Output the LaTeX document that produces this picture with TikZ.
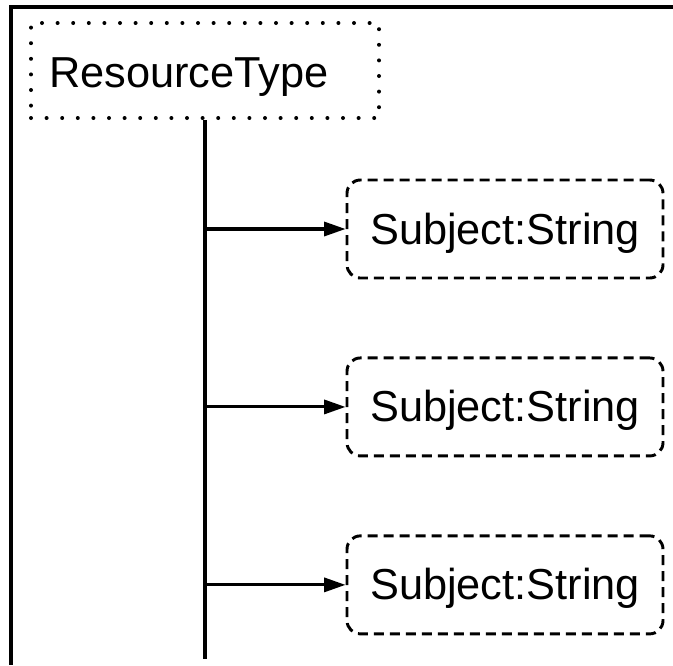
\documentclass[tikz,border=0pt]{standalone}
\usepackage{fontspec}
\setmainfont{Liberation Sans}
\usetikzlibrary{positioning,arrows.meta}

\begin{document}
\begin{tikzpicture}[x=0.75pt, y=-0.75pt, node distance=57.75pt,
                    tyyppi/.style={draw, line width=3pt, line cap=round, dash pattern=on 0pt off 11.7pt,
                      minimum width=261pt, minimum height=71.25pt, inner xsep=13.5pt,
                      text width=234pt, align=left, text height=24.75pt, text depth=0pt,
                      font=\fontsize{32.5}{38}\selectfont},
                    kentta/.style={draw, line width=2.2pt, dash pattern=on 7.5pt off 4.5pt, rounded corners=10pt,
                      minimum width=237pt, minimum height=73.5pt, text height=22.5pt, text depth=0pt,
                      font=\fontsize{32.5}{38}\selectfont},
                    nuoli/.style={line width=2.3pt, -{Triangle[length=16pt,width=10.5pt]}}]

\useasboundingbox (0,0) rectangle (673,665);
\draw[line width=2.4pt] (673,7) -- (11,7) -- (11,665);

\node[tyyppi] (rt) at (205,70.5) {ResourceType};
\node[kentta] (s1) at (505,229) {Subject:String};
\node[kentta] (s2) [below=of s1] {Subject:String};
\node[kentta] (s3) [below=of s2] {Subject:String};

\coordinate (loppu) at (205,659);
\coordinate (h1) at (rt.south |- s1.west);
\coordinate (h2) at (rt.south |- s2.west);
\coordinate (h3) at (rt.south |- s3.west);

\draw[line width=2.4pt] (rt) -- (loppu);
 \path[nuoli]
    (h1) edge (s1)
    (h2) edge (s2)
    (h3) edge (s3);
\end{tikzpicture}
\end{document}
